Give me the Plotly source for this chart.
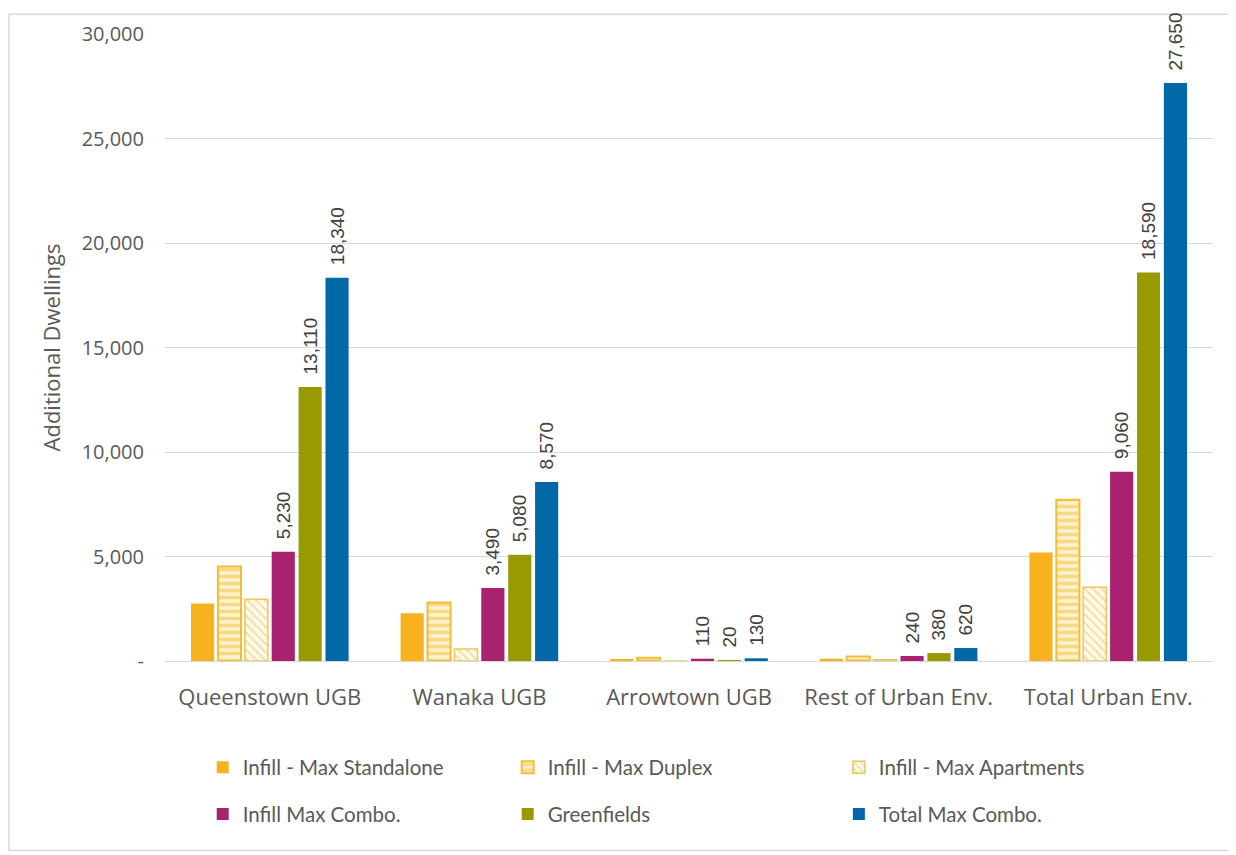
import plotly.graph_objects as go

categories = ["Queenstown UGB", "Wanaka UGB", "Arrowtown UGB", "Rest of Urban Env.", "Total Urban Env."]
infill_standalone = [2750, 2280, 80, 110, 5190]
infill_duplex = [4520, 2800, 150, 220, 7720]
infill_apartments = [2950, 570, 0, 60, 3530]
infill_combo = [5230, 3490, 110, 240, 9060]
greenfields = [13110, 5080, 20, 380, 18590]
total_combo = [18340, 8570, 130, 620, 27650]

tick_vals = [0, 5000, 10000, 15000, 20000, 25000, 30000]
tick_text = ["-", "5,000", "10,000", "15,000", "20,000", "25,000", "30,000"]

YEL = "#F7B21E"
label_font = dict(family="Liberation Sans, Arial", size=19, color="#404040")


def labels(vals):
    return ["\u2002" + f"{v:,}" for v in vals]


fig = go.Figure()

fig.add_trace(go.Bar(
    name="Infill - Max Standalone", x=categories, y=infill_standalone,
    marker=dict(color=YEL, line=dict(width=0)),
    legend="legend", legendgroup="a",
))
fig.add_trace(go.Bar(
    name="Infill - Max Duplex", x=categories, y=infill_duplex,
    marker=dict(color="#FFF3CC", line=dict(color="#F3BC3C", width=2),
                pattern=dict(shape="-", fgcolor="#F3BC3C", bgcolor="#FFF3CC", size=7, solidity=0.5)),
    legend="legend2", legendgroup="b",
))
fig.add_trace(go.Bar(
    name="Infill - Max Apartments", x=categories, y=infill_apartments,
    marker=dict(color="#FFF9E6", line=dict(color="#EEC65E", width=1.5),
                pattern=dict(shape="\\", fgcolor="#E2BD5E", bgcolor="#FFF9E6", size=6, solidity=0.3)),
    legend="legend3", legendgroup="c",
))
fig.add_trace(go.Bar(
    name="Infill Max Combo.", x=categories, y=infill_combo,
    marker=dict(color="#A8226F", line=dict(width=0)),
    text=labels(infill_combo), textposition="outside", textangle=-90,
    textfont=label_font, cliponaxis=False, constraintext="none",
    legend="legend", legendgroup="d",
))
fig.add_trace(go.Bar(
    name="Greenfields", x=categories, y=greenfields,
    marker=dict(color="#979A03", line=dict(width=0)),
    text=labels(greenfields), textposition="outside", textangle=-90,
    textfont=label_font, cliponaxis=False, constraintext="none",
    legend="legend2", legendgroup="e",
))
fig.add_trace(go.Bar(
    name="Total Max Combo.", x=categories, y=total_combo,
    marker=dict(color="#0068A6", line=dict(width=0)),
    text=labels(total_combo), textposition="outside", textangle=-90,
    textfont=label_font, cliponaxis=False, constraintext="none",
    legend="legend3", legendgroup="f",
))

leg_common = dict(
    orientation="v", yanchor="top", y=-0.138, xanchor="left",
    font=dict(family="Lato, Open Sans", size=20.5, color="#595959"),
    bgcolor="rgba(0,0,0,0)", tracegroupgap=17, traceorder="grouped",
)

# page is offset by 8px body margin; margins compensate
fig.update_layout(
    width=1236, height=855,
    paper_bgcolor="white", plot_bgcolor="white",
    margin=dict(l=157, r=31, t=21, b=202),
    barmode="group", bargap=0.23, bargroupgap=0.14,
    font=dict(family="Open Sans", color="#595959"),
    legend=dict(x=0.036, **leg_common),
    legend2=dict(x=0.327, **leg_common),
    legend3=dict(x=0.643, **leg_common),
    xaxis=dict(
        showgrid=False, showline=True, linecolor="#D9D9D9", linewidth=1,
        tickfont=dict(family="Open Sans", size=22, color="#595959"),
        ticks="", ticklabelstandoff=17,
    ),
    yaxis=dict(
        range=[0, 30000], tickvals=tick_vals, ticktext=tick_text,
        showgrid=True, gridcolor="#D9D9D9", gridwidth=1,
        zeroline=False, showline=False,
        tickfont=dict(family="Open Sans", size=20, color="#595959"),
        ticks="", ticklabelstandoff=20,
        title=dict(text="Additional Dwellings", font=dict(family="Open Sans", size=22, color="#595959"), standoff=14),
    ),
    shapes=[dict(type="rect", xref="paper", yref="paper",
                 x0=(9 - 165) / 1048, x1=1 + (1230 - 1213) / 1048,
                 y0=-(852 - 661) / 632, y1=1 + (29 - 9) / 632,
                 line=dict(color="#D9D9D9", width=1.5), fillcolor="rgba(0,0,0,0)", layer="below")],
)

fig.write_html("out.html")
